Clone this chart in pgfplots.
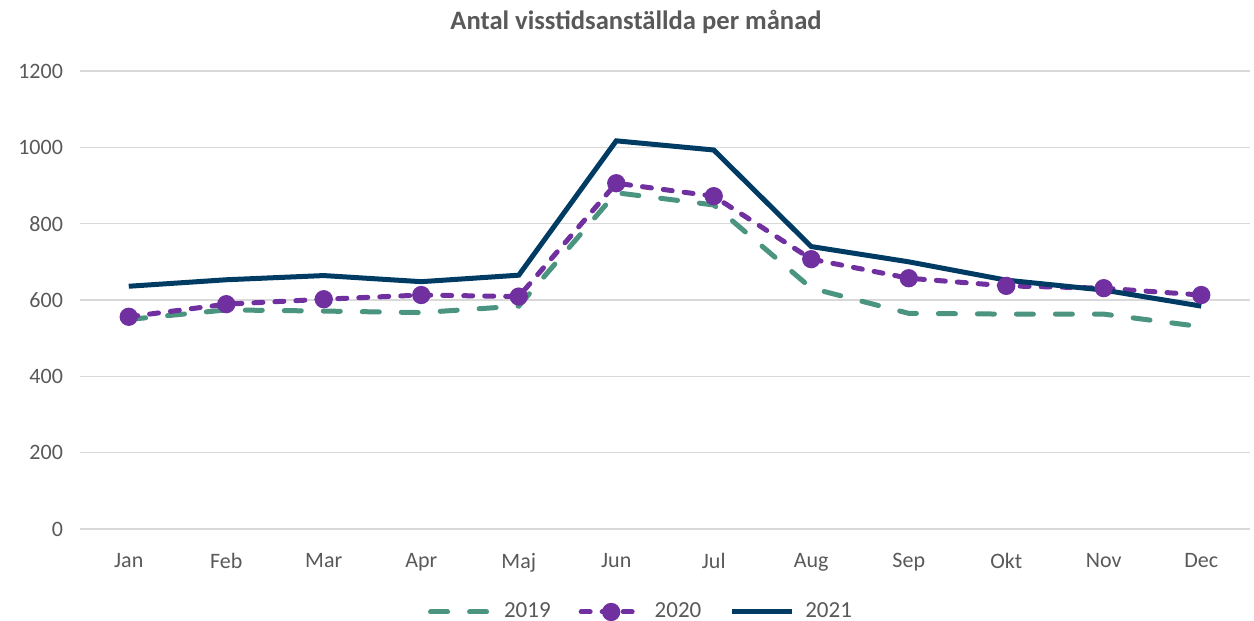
\documentclass[border=0pt]{standalone}
\usepackage{pgfplots}
\pgfplotsset{compat=1.18}
\usepackage{fontspec}
\setmainfont{Carlito}
\definecolor{c19}{HTML}{4A9480}
\definecolor{c20}{HTML}{7030A0}
\definecolor{c21}{HTML}{003B64}
\definecolor{txt}{HTML}{595959}
\definecolor{grd}{HTML}{D9D9D9}
\begin{document}
\begin{tikzpicture}
\path[use as bounding box] (0,0) rectangle (627pt,310.5pt);
\node[font=\fontsize{13.3}{15}\selectfont\bfseries, text=txt] at (318pt,299.5pt) {Antal visstidsanställda per månad};
\begin{axis}[
  at={(40pt,46pt)}, anchor=south west,
  scale only axis, width=585pt, height=229pt,
  xmin=-0.5, xmax=11.5, ymin=0, ymax=1200,
  xtick={0,...,11},
  xticklabels={Jan,Feb,Mar,Apr,Maj,Jun,Jul,Aug,Sep,Okt,Nov,Dec},
  ytick={0,200,...,1200},
  ymajorgrids, grid style={grd, line width=0.6pt},
  axis line style={draw=none},
  major tick length=0pt,
  tick label style={font=\fontsize{11}{13}\selectfont, text=txt},
  /pgf/number format/assume math mode=true,
  /pgf/number format/1000 sep={},
  yticklabel style={xshift=-5pt},
  xticklabel style={yshift=-8.5pt},
  legend style={at={(281pt,-41.5pt)}, anchor=center, draw=none, legend columns=3,
    font=\fontsize{11.5}{13}\selectfont, text=txt,
    /tikz/every odd column/.append style={column sep=3.5pt},
    /tikz/every even column/.append style={column sep=12pt}},
  legend cell align=left,
  legend image code/.code={\draw[mark repeat=2,mark phase=2,#1] plot coordinates {(1.25pt,0pt) (16.25pt,0pt) (31.25pt,0pt)};},
]
\addplot[c19, line width=2.5pt, line cap=round, dash pattern=on 8.5pt off 11pt, mark=none] coordinates {
(0,549) (1,574) (2,571) (3,567) (4,584) (5,881) (6,849) (7,631) (8,565) (9,563) (10,563) (11,530)};
\addlegendentry{2019}
\addplot[c20, line width=2.5pt, line cap=round, dash pattern=on 4.5pt off 6pt, mark=*, mark size=3.3pt, mark options={solid, fill=c20, draw=none}] coordinates {
(0,556) (1,589) (2,602) (3,613) (4,609) (5,906) (6,872) (7,707) (8,657) (9,637) (10,631) (11,613)};
\addlegendentry{2020}
\addplot[c21, line width=2.5pt, mark=none] coordinates {
(0,636) (1,653) (2,664) (3,648) (4,665) (5,1017) (6,993) (7,740) (8,700) (9,652) (10,626) (11,584)};
\addlegendentry{2021}
\end{axis}
\end{tikzpicture}
\end{document}
